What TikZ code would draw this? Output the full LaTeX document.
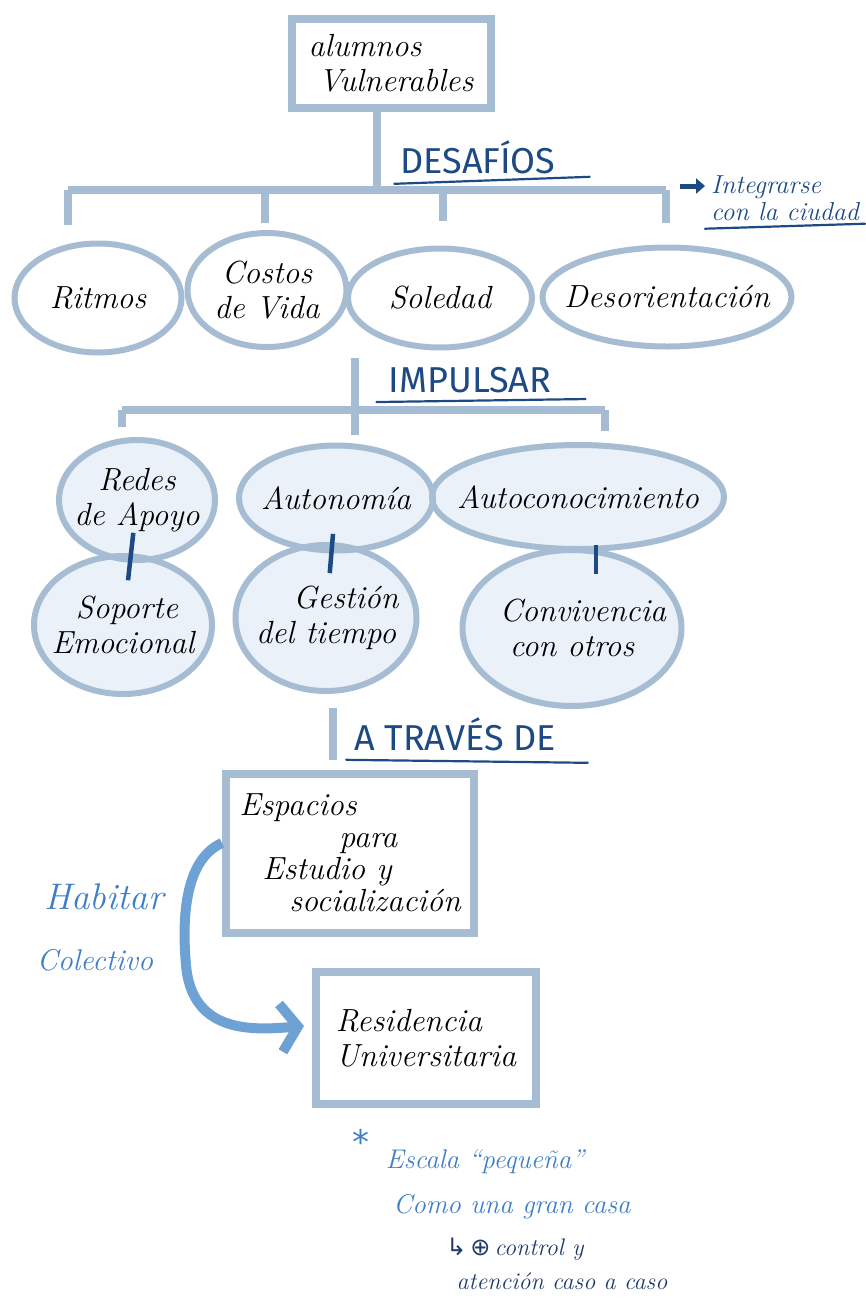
\documentclass[tikz,border=0pt]{standalone}
\usepackage{fontspec}
\setsansfont{Fira Sans}
\newfontfamily\symfont{DejaVu Sans}
\usetikzlibrary{shapes.geometric,arrows.meta,backgrounds}
\definecolor{framec}{HTML}{A6BCD2}
\definecolor{ovalfill}{HTML}{EAF1F8}
\definecolor{headc}{HTML}{1E4A84}
\definecolor{handblue}{HTML}{3F7FC6}
\definecolor{arrowc}{HTML}{6FA2D4}
\definecolor{notec}{HTML}{1F3A68}
\newcommand{\fov}[6]{%
  \begin{pgfonlayer}{background}\fill[ovalfill] (#2,#3) ellipse [x radius={#4pt/2}, y radius={#5pt/2}];\end{pgfonlayer}%
  \node[oval, minimum width=#4pt, minimum height=#5pt] (#1) at (#2,#3) {#6};}
\begin{document}
\begin{tikzpicture}[x=1pt,y=-1pt,
  hand/.style={font=\fontsize{32}{35}\selectfont\itshape, text=black, align=center},
  oval/.style={ellipse, draw=framec, line width=6pt, inner xsep=-30pt, inner ysep=-8pt, hand},
  box/.style={rectangle, draw=framec, line width=8pt, inner sep=0pt, hand},
  bar/.style={draw=framec, line width=8pt},
  head/.style={font=\sffamily\fontsize{36}{38}\selectfont, text=headc, inner sep=0pt},
  uline/.style={draw=headc, line width=2.2pt, line cap=round},
  link/.style={draw=headc, line width=4.5pt},
  bluehand/.style={font=\fontsize{27}{31}\selectfont\itshape, text=handblue, inner sep=0pt},
  note/.style={font=\fontsize{24}{28}\selectfont\itshape, text=notec, inner sep=0pt}]
\begin{pgfonlayer}{background}
\fill[white] (0,0) rectangle (866,1301);
\end{pgfonlayer}
\useasboundingbox (0,0) rectangle (866,1301);

% ---------- top box
\node[box, minimum width=199pt, minimum height=89pt, align=left] (top) at (391,63) {alumnos\\\hspace*{10pt}Vulnerables};

% ---------- row 1
\node[oval, minimum width=167pt, minimum height=109pt] (ritmos) at (98,298) {Ritmos};
\node[oval, minimum width=159pt, minimum height=114pt] (costos) at (267,290) {Costos\\de Vida};
\node[oval, minimum width=184pt, minimum height=99pt] (soledad) at (440,298) {Soledad};
\node[oval, minimum width=249pt, minimum height=99pt] (desor) at (667,297) {Desorientación};

\coordinate (j1) at (377,190);
\coordinate (b1l) at (68,190);
\coordinate (b1r) at (666,190);
\draw[bar] (top.south -| j1) -- (j1);
\draw[bar] (b1l) -- (b1r);
\draw[bar, shorten >=16pt] (b1l) -- (b1l |- ritmos.north);
\draw[bar, shorten >=10pt] (265,190) -- (265,233);
\draw[bar, shorten >=25pt] (443,190) -- (soledad.north -| 443,0);
\draw[bar, shorten >=22pt] (b1r) -- (b1r |- desor.north);

\node[head] (desafios) at (478,157) {DESAFÍOS};
\draw[uline] ([xshift=-6pt,yshift=-10pt]desafios.south west) -- ([xshift=34pt,yshift=-3pt]desafios.south east);

\node[font=\fontsize{26}{27}\selectfont\itshape, text=headc, align=left, inner sep=0pt] (integ) at (785,198) {Integrarse\\con la ciudad};
\coordinate (ia) at (680,186);
\draw[headc, line width=5pt, shorten >=6pt, -{Triangle[length=9pt,width=15pt]}] (ia) -- (integ.west |- ia);
\draw[uline] ([xshift=-6pt,yshift=-8pt]integ.south west) -- ([xshift=6pt,yshift=-3pt]integ.south east);

% ---------- impulsar
\coordinate (j2) at (355,410);
\coordinate (b2l) at (122,410);
\coordinate (b2r) at (605,410);
\draw[bar, shorten <=8pt] (costos.south -| j2) -- (j2);
\draw[bar] (b2l) -- (b2r);
\node[head] (impulsar) at (470,380) {IMPULSAR};
\draw[uline] ([xshift=-12pt,yshift=-9pt]impulsar.south west) -- ([xshift=34pt,yshift=-6pt]impulsar.south east);

% ---------- row 2
\fov{redes}{137}{500}{156}{120}{Redes\\de Apoyo}
\fov{auton}{336}{498}{194}{105}{Autonomía}
\fov{autoc}{578}{497}{292}{104}{Autoconocimiento}
\draw[bar, shorten >=10pt] (b2l) -- (b2l |- redes.north);
\draw[bar, shorten >=8pt] (j2) -- (j2 |- auton.north);
\draw[bar, shorten >=11pt] (b2r) -- (b2r |- autoc.north);

% ---------- row 3
\fov{soporte}{123}{625}{178}{138}{\hspace*{8pt}Soporte\\Emocional}
\fov{gestion}{326}{618}{181}{146}{\hspace*{40pt}Gestión\\del tiempo}
\fov{conviv}{572}{628}{219}{156}{\hspace*{22pt}Convivencia\\con otros}
\draw[link, shorten <=33pt, shorten >=45pt] (redes.center) -- (soporte.center);
\draw[link, shorten <=36pt, shorten >=45pt] (auton.center) -- (gestion.center);
\draw[link, shorten <=48pt, shorten >=54pt] ([xshift=18pt]autoc.center) -- ([xshift=24pt]conviv.center);

% ---------- a traves de
\coordinate (j3) at (333,740);
\node[box, minimum width=248pt, minimum height=159pt, align=left, font=\fontsize{32}{32}\selectfont\itshape] (esp) at (350,853)
  {Espacios\\\hspace*{100pt}para\\\hspace*{23pt}Estudio y\\\hspace*{50pt}socialización};
\draw[bar, shorten <=14pt, shorten >=10pt] (gestion.south -| j3) -- (esp.north -| j3);
\node[head] (atraves) at (455,734) {A TRAVÉS DE};
\draw[uline] ([xshift=-8pt,yshift=-9pt]atraves.south west) -- ([xshift=32pt,yshift=-12pt]atraves.south east);

% ---------- residencia
\node[box, minimum width=220pt, minimum height=132pt, align=left] (res) at (426,1038)
  {Residencia\\Universitaria};
\draw[arrowc, line width=10pt, -{Straight Barb[length=17pt,width=48pt]}]
  ([yshift=10pt]esp.west) .. controls (184,860) and (182,920) .. (186,965)
  .. controls (192,1035) and (255,1030) .. ([xshift=-8pt,yshift=12pt]res.west);

\node[bluehand, font=\fontsize{37}{40}\selectfont\itshape] (habitar) at (104,897) {Habitar};
\node[bluehand, font=\fontsize{30}{32}\selectfont\itshape] (colectivo) at (95,960) {Colectivo};

% ---------- notes
\node[text=handblue, font=\symfont\fontsize{34}{34}\selectfont, inner sep=0pt] (star) at (361,1142) {*};
\node[bluehand] (escala) at (485,1162) {Escala “pequeña”};
\node[bluehand] (casa) at (512,1207) {Como una gran casa};
\node[note] (control) at (515,1249) {{\symfont\upshape ↳\,⊕}\,control y};
\node[note] (atencion) at (562,1281) {atención caso a caso};
\end{tikzpicture}
\end{document}
